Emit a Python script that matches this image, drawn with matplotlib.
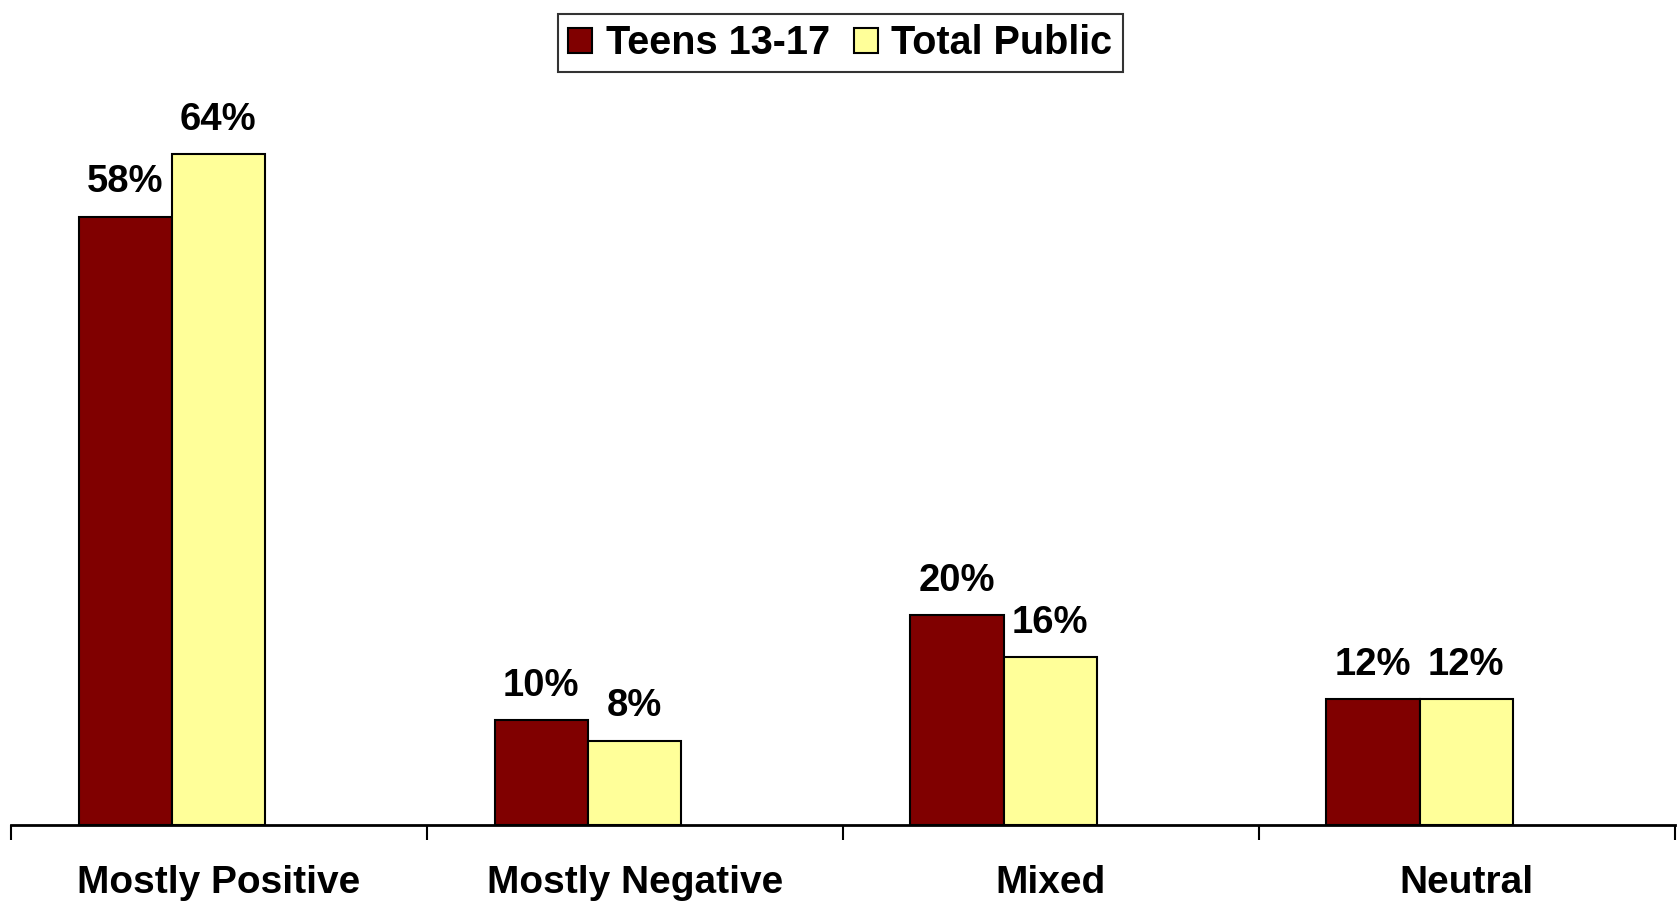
import numpy as np
import matplotlib
matplotlib.use("Agg")
import matplotlib.pyplot as plt
import matplotlib.ticker as ticker

plt.rcParams['font.family'] = ['Liberation Sans', 'DejaVu Sans']
plt.rcParams['font.weight'] = 'bold'

categories = ["Mostly Positive", "Mostly Negative", "Mixed", "Neutral"]
teens = [58, 10, 20, 12]
total_public = [64, 8, 16, 12]
series_names = ["Teens 13-17", "Total Public"]
colors = ["#800000", "#FFFF99"]

fig = plt.figure(figsize=(16.81, 9.02), dpi=100)
ax = fig.add_axes([0.0064, 0.0854, 0.9898, 0.8133])

x = np.arange(len(categories))
width = 0.224
shift = -0.113

b1 = ax.bar(x + shift - width / 2, teens, width, color=colors[0], edgecolor='black',
            linewidth=1.5, label=series_names[0])
b2 = ax.bar(x + shift + width / 2, total_public, width, color=colors[1], edgecolor='black',
            linewidth=1.5, label=series_names[1])

for bars, vals in [(b1, teens), (b2, total_public)]:
    for rect, v in zip(bars, vals):
        ax.annotate(f"{v}%", (rect.get_x() + rect.get_width() / 2, rect.get_height()),
                    xytext=(0, 12), textcoords='offset points', ha='center', va='bottom',
                    fontsize=27.5, fontweight='bold')

ax.set_xlim(-0.5, len(categories) - 0.5)
ax.set_ylim(0, 70)

for s in ['top', 'right', 'left']:
    ax.spines[s].set_visible(False)
ax.spines['bottom'].set_linewidth(2)
ax.set_yticks([])

ax.set_xticks(x)
ax.set_xticklabels(categories, fontsize=28, fontweight='bold')
ax.tick_params(axis='x', which='major', length=0, pad=29)
ax.xaxis.set_minor_locator(ticker.FixedLocator(np.arange(-0.5, len(categories), 1.0)))
ax.tick_params(axis='x', which='minor', length=11, width=1.5, direction='out')

leg = fig.legend(loc='upper center', bbox_to_anchor=(0.5, 0.993), ncol=2, fontsize=28.5,
                 frameon=True, fancybox=False, edgecolor='black', handlelength=0.6,
                 handleheight=0.6, handletextpad=0.35, columnspacing=0.6,
                 borderpad=0.25, borderaxespad=0.2)
leg.get_frame().set_linewidth(1.5)
for t in leg.get_texts():
    t.set_fontweight('bold')

plt.savefig("out.png", dpi=100)
